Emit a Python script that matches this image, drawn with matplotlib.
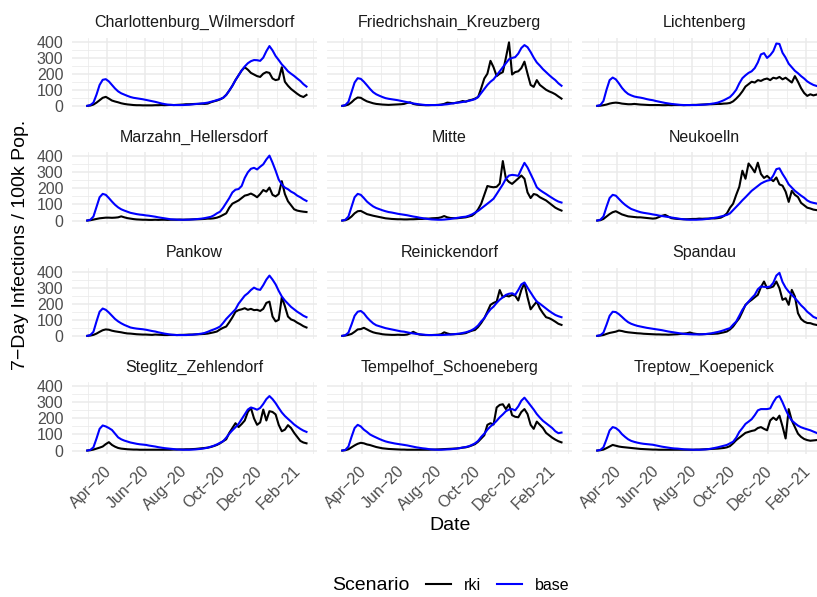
import numpy as np
import matplotlib
matplotlib.use("Agg")
import matplotlib.pyplot as plt
import matplotlib.dates as mdates
import matplotlib.transforms as mtransforms
from matplotlib.lines import Line2D

plt.rcParams['font.family'] = ['Liberation Sans', 'DejaVu Sans']

# ---------------- data ----------------
DATES = np.arange(np.datetime64('2020-02-29'), np.datetime64('2021-02-19'), 5)

DISTRICTS = ["Charlottenburg_Wilmersdorf", "Friedrichshain_Kreuzberg", "Lichtenberg",
             "Marzahn_Hellersdorf", "Mitte", "Neukoelln",
             "Pankow", "Reinickendorf", "Spandau",
             "Steglitz_Zehlendorf", "Tempelhof_Schoeneberg", "Treptow_Koepenick"]

SCENARIOS = ["rki", "base"]
SCEN_COLORS = ["black", "blue"]

X_TICK_DATES = ["2020-04-01", "2020-06-01", "2020-08-01", "2020-10-01", "2020-12-01", "2021-02-01"]
X_TICK_LABELS = ["Apr\u221220", "Jun\u221220", "Aug\u221220", "Oct\u221220", "Dec\u221220", "Feb\u221221"]
X_MINOR_DATES = ["2020-03-01", "2020-05-01", "2020-07-01", "2020-09-01", "2020-11-01", "2021-01-01", "2021-03-01"]
Y_TICKS = [0, 100, 200, 300, 400]
Y_MINOR = [50, 150, 250, 350]

BASE_CHARLOTTENBURG = [0, 5, 20, 70, 130, 162, 166, 152, 130, 108,
                       90, 78, 70, 62, 55, 50, 47, 44, 41, 37,
                       33, 29, 25, 20, 15, 11, 8, 6, 5, 5,
                       5, 5, 6, 7, 9, 11, 13, 15, 17, 20,
                       25, 30, 36, 42, 50, 68, 95, 125, 160, 190,
                       220, 245, 265, 278, 285, 284, 280, 300, 340, 372,
                       345, 310, 285, 258, 238, 215, 200, 186, 170, 155,
                       135, 120]
RKI_CHARLOTTENBURG = [0, 2, 8, 20, 35, 50, 56, 45, 33, 27,
                      22, 16, 12, 9, 7, 5, 4, 4, 3, 3,
                      3, 3, 4, 4, 5, 4, 5, 6, 5, 6,
                      7, 8, 10, 10, 11, 12, 12, 13, 12, 14,
                      22, 28, 33, 40, 50, 68, 95, 125, 160, 190,
                      220, 240, 225, 205, 195, 185, 180, 200, 210, 205,
                      170, 160, 165, 240, 150, 125, 105, 90, 75, 62,
                      55, 68]

BASE_FRIEDRICHSHAIN = [0, 5, 25, 85, 145, 172, 168, 150, 128, 105,
                       85, 72, 63, 55, 48, 44, 41, 38, 35, 31,
                       27, 23, 19, 15, 12, 9, 7, 5, 5, 5,
                       5, 5, 6, 8, 10, 13, 16, 19, 21, 24,
                       27, 31, 36, 42, 55, 80, 105, 130, 150, 165,
                       190, 215, 240, 265, 290, 298, 303, 325, 360, 378,
                       365, 335, 300, 270, 250, 228, 210, 192, 175, 160,
                       140, 125]
RKI_FRIEDRICHSHAIN = [0, 2, 8, 22, 40, 52, 50, 38, 28, 22,
                      16, 12, 10, 8, 7, 6, 7, 8, 9, 10,
                      12, 18, 22, 12, 8, 6, 5, 4, 4, 5,
                      5, 6, 8, 12, 20, 18, 16, 20, 24, 30,
                      26, 34, 38, 45, 55, 110, 170, 200, 280, 240,
                      185, 200, 210, 300, 395, 195, 210, 215, 235, 275,
                      200, 130, 118, 160, 130, 115, 100, 90, 82, 72,
                      58, 45]

BASE_LICHTENBERG = [0, 5, 30, 100, 160, 176, 165, 140, 112, 90,
                    74, 65, 58, 54, 51, 47, 42, 38, 35, 30,
                    26, 22, 18, 15, 12, 10, 8, 6, 5, 5,
                    5, 5, 5, 6, 7, 8, 10, 13, 16, 20,
                    27, 35, 45, 55, 75, 100, 140, 172, 190, 205,
                    215, 235, 270, 320, 328, 298, 315, 340, 388, 385,
                    330, 300, 262, 240, 218, 203, 185, 170, 152, 140,
                    130, 124]
RKI_LICHTENBERG = [0, 1, 4, 8, 14, 18, 20, 18, 14, 12,
                   10, 10, 12, 10, 8, 7, 6, 5, 5, 5,
                   5, 4, 4, 5, 4, 5, 5, 5, 4, 5,
                   5, 6, 6, 7, 8, 9, 10, 10, 11, 12,
                   12, 14, 15, 18, 28, 45, 65, 90, 120, 135,
                   150, 145, 160, 155, 165, 170, 160, 175, 170, 180,
                   165, 175, 160, 145, 185, 150, 110, 80, 62, 72,
                   65, 70]

BASE_MARZAHN = [0, 5, 25, 85, 145, 166, 160, 140, 118, 98,
                82, 70, 62, 55, 48, 44, 40, 37, 35, 32,
                30, 27, 24, 20, 17, 14, 11, 8, 7, 6,
                5, 5, 5, 6, 7, 8, 10, 12, 15, 19,
                23, 32, 45, 55, 80, 110, 140, 175, 192, 196,
                215, 265, 300, 322, 328, 318, 335, 350, 380, 404,
                360, 310, 255, 225, 205, 195, 180, 170, 155, 145,
                132, 122]
RKI_MARZAHN = [0, 2, 6, 10, 14, 16, 18, 18, 17, 18,
               20, 26, 20, 15, 12, 9, 7, 6, 5, 5,
               4, 4, 5, 4, 5, 5, 4, 5, 5, 5,
               6, 5, 6, 6, 7, 8, 8, 9, 10, 12,
               12, 14, 18, 25, 35, 45, 80, 105, 115, 125,
               140, 155, 160, 168, 158, 145, 165, 190, 180, 205,
               160, 150, 165, 245, 165, 120, 95, 70, 62, 58,
               55, 53]

BASE_MITTE = [0, 5, 25, 85, 145, 166, 160, 140, 118, 102,
              88, 78, 71, 64, 58, 53, 50, 46, 42, 39,
              36, 33, 29, 25, 22, 18, 15, 12, 9, 7,
              6, 5, 5, 6, 8, 10, 13, 16, 19, 22,
              24, 30, 38, 49, 60, 75, 90, 105, 120, 136,
              165, 195, 225, 260, 280, 284, 282, 278, 320, 359,
              330, 290, 250, 207, 190, 177, 165, 152, 140, 128,
              118, 112]
RKI_MITTE = [0, 2, 10, 25, 45, 58, 60, 50, 40, 35,
             30, 26, 22, 18, 14, 12, 10, 9, 8, 8,
             7, 7, 8, 8, 9, 10, 10, 12, 12, 14,
             15, 16, 20, 28, 20, 16, 15, 14, 16, 18,
             20, 25, 30, 45, 70, 105, 160, 215, 210, 207,
             210, 230, 370, 260, 240, 228, 245, 262, 280, 260,
             175, 140, 165, 160, 145, 135, 125, 110, 95, 80,
             70, 62]

BASE_NEUKOELLN = [0, 5, 25, 85, 140, 160, 155, 135, 115, 98,
                  84, 72, 65, 58, 52, 48, 45, 42, 38, 35,
                  31, 28, 25, 22, 19, 16, 13, 10, 8, 6,
                  5, 5, 5, 6, 7, 9, 11, 14, 17, 20,
                  25, 30, 35, 45, 65, 85, 105, 126, 145, 165,
                  185, 200, 215, 230, 240, 248, 252, 280, 320, 325,
                  290, 260, 225, 205, 185, 170, 155, 142, 125, 115,
                  110, 106]
RKI_NEUKOELLN = [0, 2, 10, 25, 40, 52, 58, 48, 38, 32,
                 26, 24, 22, 20, 20, 18, 16, 14, 12, 14,
                 22, 30, 35, 25, 15, 12, 10, 9, 8, 8,
                 9, 10, 10, 12, 11, 12, 12, 14, 13, 15,
                 18, 28, 45, 80, 105, 160, 210, 310, 260, 355,
                 330, 300, 360, 290, 265, 278, 260, 245, 268, 225,
                 217, 180, 116, 185, 160, 146, 110, 95, 80, 75,
                 68, 65]

BASE_PANKOW = [0, 5, 25, 90, 150, 170, 162, 145, 125, 105,
               90, 78, 68, 60, 52, 48, 45, 43, 41, 38,
               34, 30, 27, 22, 18, 14, 11, 8, 6, 5,
               5, 5, 5, 6, 7, 9, 11, 14, 18, 25,
               33, 40, 48, 58, 80, 105, 125, 145, 165, 200,
               225, 250, 265, 285, 300, 290, 286, 315, 350, 375,
               350, 320, 280, 245, 220, 200, 180, 165, 150, 138,
               125, 116]
RKI_PANKOW = [0, 2, 6, 14, 25, 35, 40, 38, 32, 28,
              25, 22, 18, 15, 14, 12, 10, 9, 8, 8,
              7, 6, 8, 7, 6, 5, 5, 6, 6, 5,
              6, 6, 7, 8, 8, 9, 10, 11, 12, 14,
              18, 22, 27, 40, 50, 58, 85, 115, 150, 160,
              165, 172, 162, 168, 160, 162, 155, 168, 205, 213,
              120, 90, 100, 240, 185, 120, 102, 95, 82, 72,
              60, 52]

BASE_REINICKENDORF = [0, 4, 20, 70, 125, 150, 155, 140, 115, 95,
                      78, 66, 60, 54, 48, 44, 40, 36, 32, 28,
                      26, 22, 18, 15, 12, 10, 8, 6, 5, 5,
                      5, 5, 5, 6, 7, 8, 10, 12, 14, 18,
                      22, 28, 36, 48, 65, 90, 110, 140, 165, 182,
                      205, 225, 240, 255, 262, 265, 255, 285, 320, 332,
                      300, 270, 240, 213, 200, 185, 170, 155, 142, 130,
                      122, 116]
RKI_REINICKENDORF = [0, 2, 6, 12, 25, 40, 42, 50, 40, 30,
                     22, 17, 14, 10, 8, 7, 6, 6, 7, 6,
                     6, 8, 15, 25, 15, 8, 6, 5, 5, 5,
                     6, 7, 10, 22, 15, 10, 10, 11, 12, 14,
                     17, 25, 32, 37, 55, 80, 110, 150, 193, 205,
                     213, 285, 240, 250, 245, 255, 250, 220, 286, 327,
                     240, 165, 190, 213, 170, 141, 116, 110, 100, 88,
                     75, 68]

BASE_SPANDAU = [0, 4, 20, 70, 125, 150, 148, 135, 118, 100,
                85, 75, 68, 62, 58, 54, 50, 47, 44, 41,
                38, 35, 31, 27, 24, 21, 18, 15, 12, 11,
                10, 9, 9, 9, 10, 11, 13, 16, 20, 24,
                29, 35, 42, 48, 70, 89, 125, 162, 190, 213,
                235, 255, 290, 307, 305, 303, 307, 330, 375, 392,
                335, 300, 275, 255, 235, 213, 190, 172, 150, 135,
                118, 110]
RKI_SPANDAU = [0, 2, 5, 12, 18, 22, 26, 33, 30, 25,
               22, 20, 18, 16, 15, 13, 12, 11, 10, 9,
               9, 8, 8, 7, 8, 9, 10, 12, 14, 16,
               21, 15, 12, 10, 10, 11, 12, 12, 13, 14,
               18, 22, 27, 40, 58, 85, 110, 150, 193, 210,
               224, 240, 255, 303, 338, 296, 300, 307, 338, 296,
               224, 234, 193, 286, 245, 141, 105, 89, 80, 79,
               72, 68]

BASE_STEGLITZ = [0, 4, 20, 75, 135, 156, 150, 140, 128, 105,
                 82, 70, 62, 56, 50, 46, 42, 39, 37, 35,
                 31, 28, 25, 21, 18, 15, 13, 11, 9, 7,
                 6, 5, 5, 5, 6, 7, 9, 11, 14, 18,
                 24, 30, 38, 48, 58, 80, 105, 126, 145, 166,
                 195, 225, 255, 268, 262, 254, 265, 290, 320, 339,
                 320, 295, 265, 237, 215, 197, 180, 162, 148, 135,
                 124, 116]
RKI_STEGLITZ = [0, 2, 6, 12, 18, 25, 40, 52, 35, 24,
                16, 12, 10, 8, 7, 6, 6, 5, 5, 5,
                5, 5, 5, 5, 5, 5, 5, 5, 6, 6,
                7, 7, 8, 8, 9, 10, 12, 14, 16, 18,
                22, 28, 35, 45, 58, 70, 110, 140, 170, 146,
                165, 187, 240, 265, 200, 160, 175, 255, 187, 245,
                240, 225, 160, 120, 130, 158, 140, 110, 85, 60,
                50, 45]

BASE_TEMPELHOF = [0, 4, 25, 85, 140, 160, 150, 130, 116, 100,
                  90, 81, 72, 64, 57, 52, 48, 44, 41, 38,
                  35, 32, 28, 24, 20, 17, 14, 12, 9, 7,
                  6, 5, 5, 6, 7, 8, 10, 12, 15, 19,
                  22, 27, 35, 45, 60, 85, 105, 130, 150, 166,
                  185, 207, 225, 245, 255, 258, 250, 275, 310, 329,
                  305, 280, 255, 227, 205, 185, 170, 155, 140, 120,
                  108, 112]
RKI_TEMPELHOF = [0, 2, 8, 20, 32, 42, 48, 45, 38, 34,
                 28, 22, 18, 14, 12, 10, 9, 8, 7, 6,
                 6, 5, 5, 5, 5, 5, 5, 5, 5, 6,
                 6, 7, 8, 9, 10, 11, 12, 13, 15, 18,
                 20, 25, 32, 40, 55, 75, 95, 160, 170, 162,
                 268, 284, 288, 258, 288, 220, 210, 207, 240, 258,
                 227, 160, 135, 180, 160, 140, 110, 95, 80, 68,
                 58, 51]

BASE_TREPTOW = [0, 4, 20, 70, 125, 146, 140, 125, 102, 85,
                70, 60, 54, 49, 45, 42, 40, 38, 36, 32,
                28, 24, 21, 18, 15, 13, 12, 10, 8, 7,
                6, 5, 5, 5, 6, 7, 9, 12, 16, 20,
                25, 30, 35, 45, 55, 80, 116, 140, 166, 180,
                195, 220, 250, 258, 258, 258, 262, 300, 330, 339,
                300, 255, 215, 187, 170, 155, 145, 138, 132, 126,
                118, 110]
RKI_TREPTOW = [0, 2, 6, 15, 25, 35, 30, 25, 22, 20,
               18, 16, 14, 12, 10, 9, 8, 7, 6, 6,
               5, 5, 5, 5, 5, 5, 5, 5, 5, 5,
               5, 5, 6, 6, 7, 8, 9, 10, 11, 12,
               14, 16, 20, 28, 45, 65, 80, 95, 110, 116,
               122, 126, 140, 146, 135, 126, 187, 205, 190, 217,
               150, 75, 258, 187, 146, 105, 85, 72, 65, 61,
               63, 65]

SERIES = {
    "Charlottenburg_Wilmersdorf": (RKI_CHARLOTTENBURG, BASE_CHARLOTTENBURG),
    "Friedrichshain_Kreuzberg": (RKI_FRIEDRICHSHAIN, BASE_FRIEDRICHSHAIN),
    "Lichtenberg": (RKI_LICHTENBERG, BASE_LICHTENBERG),
    "Marzahn_Hellersdorf": (RKI_MARZAHN, BASE_MARZAHN),
    "Mitte": (RKI_MITTE, BASE_MITTE),
    "Neukoelln": (RKI_NEUKOELLN, BASE_NEUKOELLN),
    "Pankow": (RKI_PANKOW, BASE_PANKOW),
    "Reinickendorf": (RKI_REINICKENDORF, BASE_REINICKENDORF),
    "Spandau": (RKI_SPANDAU, BASE_SPANDAU),
    "Steglitz_Zehlendorf": (RKI_STEGLITZ, BASE_STEGLITZ),
    "Tempelhof_Schoeneberg": (RKI_TEMPELHOF, BASE_TEMPELHOF),
    "Treptow_Koepenick": (RKI_TREPTOW, BASE_TREPTOW),
}

# ---------------- layout (pixels) ----------------
W, H = 817, 597
COL_LEFT = [72, 327, 582]
ROW_TOP = [37.5, 152.2, 267.5, 382.2]
PW, PH = 245, 71.6
LW = 1.5

GRID = "#EBEBEB"
fig = plt.figure(figsize=(W / 100, H / 100), dpi=100)
fig.patch.set_facecolor("white")

x0 = mdates.date2num(np.datetime64("2020-04-01")) - 56.7
x1 = mdates.date2num(np.datetime64("2021-02-01")) + 34.0
tick_nums = [mdates.date2num(np.datetime64(d)) for d in X_TICK_DATES]
minor_nums = [mdates.date2num(np.datetime64(d)) for d in X_MINOR_DATES]
label_shift = mtransforms.ScaledTranslation(-3 / 100, -4 / 100, fig.dpi_scale_trans)

for i, name in enumerate(DISTRICTS):
    r, c = divmod(i, 3)
    left = COL_LEFT[c] / W
    bottom = 1 - (ROW_TOP[r] + PH) / H
    ax = fig.add_axes([left, bottom, PW / W, PH / H])
    ax.set_facecolor("white")
    for s in ax.spines.values():
        s.set_visible(False)
    rki_vals, base_vals = SERIES[name]
    for vals, col in zip((rki_vals, base_vals), SCEN_COLORS):
        ax.plot(DATES, vals, color=col, lw=LW, solid_joinstyle="round", zorder=3)
    ax.set_xlim(x0, x1)
    ax.set_ylim(-20.25, 425.25)
    ax.set_xticks(tick_nums)
    ax.set_xticks(minor_nums, minor=True)
    ax.set_yticks(Y_TICKS)
    ax.set_yticks(Y_MINOR, minor=True)
    ax.grid(True, which="major", color=GRID, lw=1.1, zorder=0)
    ax.grid(True, which="minor", color=GRID, lw=0.55, zorder=0)
    ax.set_axisbelow(True)
    ax.tick_params(which="both", length=0)
    ax.tick_params(axis="y", labelsize=11.5, labelcolor="#4D4D4D", pad=6.3)
    ax.tick_params(axis="x", labelsize=11.5, labelcolor="#4D4D4D", pad=4)
    if c == 0:
        ax.set_yticklabels([str(v) for v in Y_TICKS])
    else:
        ax.set_yticklabels([])
    if r == 3:
        labs = ax.set_xticklabels(X_TICK_LABELS, rotation=45, ha="right", va="top",
                                  rotation_mode="anchor")
        for lab in labs:
            lab.set_transform(lab.get_transform() + label_shift)
    else:
        ax.set_xticklabels([])
    fig.text((COL_LEFT[c] + PW / 2) / W, 1 - (ROW_TOP[r] - 10.3) / H, name,
             ha="center", va="baseline", fontsize=11.5, color="#1A1A1A")

fig.text(21 / W, 1 - 245 / H, "7\u2212Day Infections / 100k Pop.", rotation=90,
         ha="center", va="center", fontsize=14)
fig.text(450 / W, 1 - 526 / H, "Date", ha="center", va="center", fontsize=14)

fig.text(371 / W, 1 - 585 / H, "Scenario", ha="center", va="center", fontsize=14)
handles = [Line2D([0], [0], color=col, lw=LW) for col in SCEN_COLORS]
fig.legend(handles, SCENARIOS, loc="center left", bbox_to_anchor=(426 / W, 1 - 585 / H),
           frameon=False, ncol=2, fontsize=11.5, handlelength=1.56, handletextpad=0.8,
           columnspacing=1.0, borderpad=0, borderaxespad=0)

fig.savefig("out.png", dpi=100, facecolor="white")
